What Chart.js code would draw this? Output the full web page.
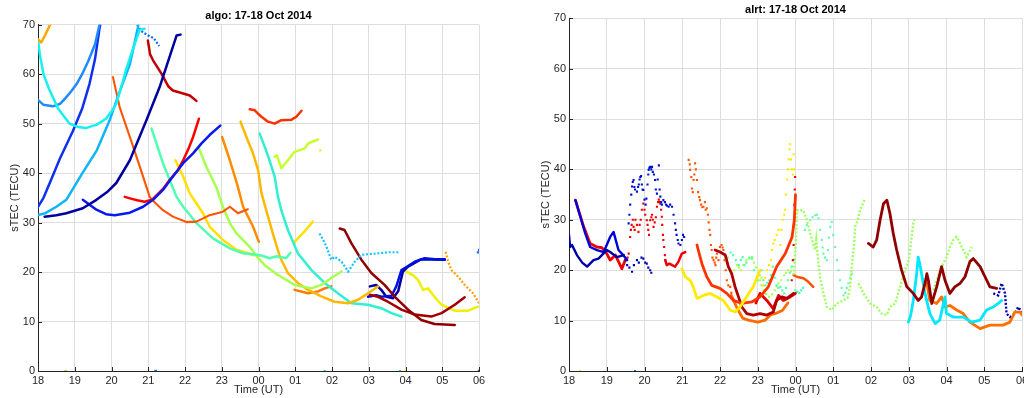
<!DOCTYPE html>
<html><head><meta charset="utf-8">
<script src="https://cdn.jsdelivr.net/npm/chart.js@4"></script>
<style>
html,body{margin:0;padding:0;background:#fff;overflow:hidden;width:1024px;height:398px;}
#w1{position:absolute;left:0;top:0;width:512px;height:398px;}
#w2{position:absolute;left:512px;top:0;width:540px;height:398px;}
</style></head><body>
<div id="w1"><canvas id="c1"></canvas></div>
<div id="w2"><canvas id="c2"></canvas></div>
<script>
// ---- tick labels ----
const hourTicks = [18,19,20,21,22,23,24,25,26,27,28,29,30];
const tecTicks = [0,10,20,30,40,50,60,70];

// ---- algo station tracks: [hour (UT, 24+ = next day), sTEC] ----
const algoOrangeTop = [[18.0,67],[18.09,66.4],[18.2,68],[18.36,70.5]];
const algoCyan = [[18.0,67],[18.05,64],[18.15,60],[18.3,57],[18.55,53],[18.86,50],[19.1,49.3],[19.3,49.1],[19.6,49.8],[19.85,51],[20.05,53],[20.13,54],[20.25,57],[20.4,61],[20.58,65],[20.77,69],[20.9,69.2]];
const algoAzure = [[18.0,54.8],[18.15,53.8],[18.4,53.5],[18.6,54],[18.73,55],[18.9,56.5],[19.05,58],[19.2,60],[19.36,62.5],[19.55,66],[19.68,70.2]];
const algoBlue = [[18.0,33.2],[18.15,35],[18.32,38],[18.6,43],[18.95,48.5],[19.2,53],[19.4,58],[19.55,63],[19.68,69.5],[19.72,71]];
const algoSky = [[18.0,31.5],[18.2,31.9],[18.5,33.2],[18.77,34.6],[19.2,39.9],[19.6,44.6],[19.95,50.7],[20.2,56],[20.5,62],[20.72,69.5],[20.75,71]];
const algoDodgerDots = [[20.7,70],[20.78,69],[20.85,68.5],[21.0,67.8],[21.15,67.3],[21.22,66.5],[21.3,65.7]];
const algoNavy = [[18.18,31.2],[18.5,31.5],[18.77,31.9],[19.22,32.9],[19.59,34.6],[19.9,36.3],[20.13,38],[20.5,42.6],[20.95,50.7],[21.31,57.4],[21.58,63.5],[21.77,67.8],[21.88,68]];
const algoBlue2 = [[19.22,34.6],[19.59,32.6],[19.85,31.7],[20.09,31.5],[20.5,32],[20.86,33.2],[21.13,34.6],[21.4,36.6],[21.67,39.3],[21.95,42],[22.22,44],[22.45,46],[22.67,47.7],[22.96,49.6]];
const algoRed = [[20.36,35.2],[20.55,34.8],[20.7,34.5],[20.9,34.2],[21.1,34.6],[21.4,36.8],[21.58,38.6],[21.8,40.5],[21.95,42.6],[22.1,45],[22.22,47.3],[22.38,51]];
const algoOrangeRed = [[20.04,59.4],[20.22,53.4],[20.5,47.3],[20.77,41.3],[21.04,35.2],[21.13,34.4],[21.4,32.5],[21.67,31.2],[22.04,30.1],[22.31,30.2],[22.67,31.5],[23.03,32.2],[23.22,33.2],[23.44,31.9],[23.71,32.7]];
const algoDarkRed = [[20.99,66.8],[21.05,64],[21.13,62.8],[21.36,60.1],[21.55,57.5],[21.67,56.7],[21.95,56.1],[22.13,55.7],[22.31,54.6]];
const algoAqua = [[21.09,49],[21.4,42],[21.77,35.2],[21.95,33.2],[22.31,29.9],[22.76,26.8],[23.22,24.8],[23.58,23.8],[23.94,23.5],[24.1,23.3],[24.3,22.8],[24.5,23.2],[24.75,22.8],[24.87,23.9]];
const algoYellow = [[21.74,42.6],[21.95,39.3],[22.13,35.9],[22.31,33.9],[22.49,31.9],[22.67,29.2],[23.03,26.5],[23.4,24.5],[23.85,23.5],[24.0,23.3]];
const algoLime = [[22.38,45],[22.58,41.3],[22.85,37.2],[23.03,33.2],[23.22,29.9],[23.4,27.8],[23.76,25.1],[24.03,22.5],[24.17,21.4],[24.53,19.4],[24.98,17.4],[25.44,16.7],[25.71,17.4],[25.98,18.8],[26.26,20.1]];
const algoOrange = [[23.01,47.3],[23.22,42.6],[23.44,37.2],[23.58,33.2],[23.85,29.2],[24.01,26.1]];
const algoAmber = [[23.51,50.4],[23.67,47.3],[23.85,44],[23.99,40.6],[24.08,36],[24.21,32.5],[24.39,27.8],[24.58,23.1],[24.8,19.8],[25.07,17.8],[25.35,16.4],[25.71,15.1],[26.07,14],[26.44,13.7],[26.71,14.4],[26.98,15.7],[27.25,17.1]];
const algoTurq = [[24.03,48],[24.17,45.3],[24.3,42.6],[24.44,39.3],[24.53,35.2],[24.62,32.5],[24.8,28.5],[25.07,23.8],[25.44,20.4],[25.8,17.8],[26.16,15.7],[26.53,13.7],[26.98,13.4],[27.34,12.7],[27.62,11.7],[27.89,11]];
const algoRedOrange = [[23.76,52.9],[23.9,52.7],[23.99,52],[24.08,51.4],[24.26,50.4],[24.44,50],[24.62,50.7],[24.9,50.8],[25.03,51.4],[25.17,52.6]];
const algoYellowGreen = [[24.44,43.3],[24.5,43.6],[24.62,41],[24.8,42.6],[24.98,44.3],[25.26,45],[25.35,46],[25.62,46.8]];
const algoYellowGreenDot = [[25.68,44.6]];
const algoOrange2 = [[24.98,16.4],[25.35,15.7],[25.62,16.1],[25.8,16.7],[25.98,17.1]];
const algoYellow2 = [[24.98,26.1],[25.25,28.2],[25.48,30.2]];
const algoSky2 = [[25.66,27.8],[25.76,26.5],[25.85,25.1],[25.98,22.5],[26.07,23.1],[26.26,22.1],[26.44,20.1],[26.62,22.1],[26.8,23.5],[27.16,23.7],[27.52,24],[27.84,24]];
const algoMaroon = [[26.21,28.8],[26.34,28.5],[26.53,25.8],[26.8,22.5],[27.07,19.8],[27.43,17.4],[27.71,15],[28.07,12.4],[28.43,10.3],[28.79,9.5],[29.34,9.3]];
const algoDarkRed2 = [[27.03,15.4],[27.25,15],[27.52,14],[27.89,12.4],[28.25,11.4],[28.7,11],[28.98,11.7],[29.34,13.4],[29.61,14.9]];
const algoBlue3 = [[26.98,15],[27.2,15.3],[27.34,15],[27.62,15.2],[27.75,17.1],[27.89,20.4],[28.07,21.2],[28.25,22.1],[28.52,22.8],[28.8,22.6],[29.07,22.6]];
const algoNavy2 = [[27.03,17.1],[27.2,17.4],[27.34,16.4],[27.48,15],[27.66,14.7],[27.8,16.1],[27.93,20.1],[28.07,21.1],[28.43,22.6],[29.07,22.5]];
const algoYellow3 = [[28.02,20.1],[28.2,19.4],[28.34,18.4],[28.48,16.4],[28.61,16.7],[28.79,15],[28.98,13.4],[29.34,12.2],[29.7,12.2],[29.97,13]];
const algoOrange3 = [[29.09,24.1],[29.16,22.1],[29.25,20.4],[29.43,19.1],[29.61,17.4],[29.84,15.7],[30.0,13.7]];
const algoBlueDot = [[29.97,24],[30.0,24.5]];
const algoZeroOrange = [[18.75,0]];
const algoZeroBlue = [[21.2,0],[30.0,0]];
const algoZeroSky = [[25.8,0],[27.85,0]];
const algoZeroYellow = [[28.0,0]];

// ---- alrt station tracks ----
const alrtNavy = [[18.0,27],[18.03,24.6],[18.08,25],[18.21,23],[18.35,21.5],[18.48,20.7],[18.65,22],[18.78,22.3],[19.0,24],[19.09,23.6],[19.27,22.6],[19.45,23]];
const alrtNavyDots = [[19.5,22],[19.54,21],[19.6,20.5],[19.67,19.7],[19.72,21],[19.8,22],[19.85,21.5],[19.92,22.5],[19.97,22.3],[20.02,21.5],[20.06,21.3],[20.1,20.5],[20.15,20],[20.18,19.5]];
const alrtBlue = [[18.17,33.9],[18.3,30.6],[18.43,27.3],[18.56,24.6],[18.74,24],[18.92,23.6],[19.09,26.6],[19.18,27.6],[19.31,24],[19.4,23.3],[19.54,22]];
const alrtBlueDots = [[19.58,29.3],[19.6,31],[19.62,33],[19.65,35],[19.67,36.6],[19.69,37.5],[19.71,37.9],[19.73,36.5],[19.75,36],[19.8,35.6],[19.83,36.5],[19.85,37],[19.87,38],[19.89,38.5],[19.91,38.7],[19.93,37],[19.95,36],[19.97,35.9],[20.0,34],[20.03,33],[20.05,34.2],[20.08,37],[20.1,39],[20.11,39.9],[20.13,40.3],[20.15,40.5],[20.18,40],[20.2,40.5],[20.22,39.5],[20.25,39],[20.28,37.9],[20.3,36],[20.33,35.2],[20.35,38],[20.38,40.8],[20.4,36],[20.42,34.6],[20.44,33.5],[20.46,33],[20.5,33.9],[20.54,33.5],[20.57,33],[20.6,32.8],[20.64,32.6],[20.68,33],[20.73,32.6],[20.77,31],[20.81,29.3],[20.83,28],[20.85,27],[20.88,26],[20.9,25.3],[20.95,25],[20.99,26],[21.02,27],[21.05,26.6]];
const alrtRed = [[18.17,33.9],[18.39,28.6],[18.56,25.3],[18.74,24.6],[18.87,24.5],[19.0,23.3],[19.09,22],[19.23,23],[19.4,20.3],[19.49,22]];
const alrtRedDots = [[19.55,22.5],[19.58,23.3],[19.62,26.6],[19.64,28],[19.66,29],[19.69,30],[19.71,28.6],[19.74,28],[19.76,30],[19.8,29],[19.84,27.6],[19.87,29],[19.9,30],[19.93,32],[19.97,33.2],[20.0,32],[20.02,31],[20.06,29.9],[20.08,29],[20.1,28],[20.12,27],[20.15,29.9],[20.18,30.5],[20.2,31],[20.22,30],[20.24,28.6],[20.27,29.5],[20.3,30.5],[20.33,32.6],[20.36,33.5],[20.38,34],[20.4,33.5],[20.42,33.2],[20.44,32],[20.46,30.6],[20.47,29],[20.49,27],[20.5,26],[20.52,24.6],[20.54,23],[20.55,22]];
const alrtRedTail = [[20.55,22],[20.59,21],[20.66,21.3],[20.73,21],[20.81,20.7],[20.9,21.7],[20.99,23.3],[21.08,23.6]];
const alrtOrangeRedDots = [[21.17,41.9],[21.2,41],[21.21,39.9],[21.24,38.5],[21.26,36.2],[21.28,35.5],[21.3,37.9],[21.32,39],[21.34,41.2],[21.36,40],[21.39,37.9],[21.42,35.5],[21.45,34.5],[21.47,33.9],[21.5,33],[21.53,32.5],[21.56,32.6],[21.6,33.5],[21.62,32],[21.65,32.3],[21.68,31],[21.7,29.5],[21.72,28],[21.74,27],[21.76,25],[21.78,24],[21.8,22.5],[21.83,22],[21.86,21.5],[21.88,21],[21.9,22.5],[21.92,23.3],[21.96,22],[22.0,24.6],[22.04,25],[22.07,24.5],[22.09,24],[22.12,22],[22.15,20],[22.18,18],[22.22,17],[22.27,16.7],[22.3,15.5]];
const alrtYellow = [[20.99,20.3],[21.08,18.7],[21.21,18],[21.3,16.5],[21.39,14.4],[21.56,15],[21.74,15.4],[21.92,14.7],[22.09,14],[22.27,12.1],[22.4,11.7],[22.53,12.7],[22.7,14.7],[22.88,16.7],[23.06,20]];
const alrtYellowDots = [[23.1,18.5],[23.15,17],[23.2,18.5],[23.25,20],[23.3,21],[23.35,22],[23.38,24],[23.41,25.3],[23.45,26],[23.5,27],[23.55,28],[23.6,25],[23.63,28],[23.66,30],[23.7,31],[23.72,32],[23.75,35],[23.78,38],[23.8,40],[23.82,42],[23.84,44],[23.86,45],[23.88,42],[23.9,40],[23.93,39],[23.95,43],[23.96,40]];
const alrtOrangeRed = [[21.39,25],[21.52,21.3],[21.65,18.7],[21.78,17],[22.0,16.4],[22.18,15.4],[22.36,14],[22.58,13.4],[22.84,13.7],[23.06,14.7],[23.28,16.7],[23.5,20.7],[23.73,23.3],[23.91,26.6],[23.97,30],[24.0,35]];
const alrtDarkRed = [[21.87,24],[22.0,23.6],[22.14,23],[22.22,20.7],[22.31,19.3],[22.4,16.7],[22.49,14.7],[22.58,12.7],[22.71,11.4],[22.88,11.1],[23.06,11.4],[23.24,11.1],[23.41,11.7],[23.5,14],[23.64,14.7],[23.77,14.4],[23.95,15.4]];
const alrtOrange = [[22.3,15],[22.45,12.5],[22.6,10.5],[22.75,10.1],[23.0,9.7],[23.2,10.1],[23.35,11.2],[23.5,11.5],[23.65,12],[23.8,13.5]];
const alrtRed2 = [[22.95,13.5],[23.06,15.4],[23.24,14],[23.41,12.4],[23.55,15],[23.68,14],[23.86,14.7],[24.0,15.4]];
const alrtRedRise = [[23.9,18],[23.93,22],[23.95,25],[23.96,29],[23.97,33],[23.98,36],[23.99,38.5]];
const alrtAquaDots = [[22.2,22.5],[22.28,23.5],[22.35,23],[22.42,22],[22.5,21],[22.55,22],[22.6,22.6],[22.65,21],[22.7,21.5],[22.78,22.5],[22.85,22.3],[22.9,20],[23.0,18],[23.05,19],[23.1,20],[23.15,18],[23.2,17],[23.25,17.5],[23.3,18],[23.35,19],[23.4,20.7],[23.45,18.5],[23.5,17],[23.55,16.5],[23.6,16.7],[23.65,16],[23.7,15.4],[23.75,16.5],[23.8,18],[23.85,19.5],[23.9,20.7],[23.95,22],[24.0,16],[24.05,15.7],[24.1,15.5],[24.15,16],[24.2,16.5]];
const alrtLimeDots = [[22.3,19.3],[22.38,20],[22.45,21],[22.5,20.5],[22.55,20],[22.62,21],[22.7,22],[22.78,22.3],[22.85,22.6],[22.9,21.5],[22.95,20.5],[23.0,19],[23.06,18],[23.1,17],[23.15,16],[23.22,15.3],[23.3,14.7],[23.38,15.2],[23.45,16],[23.5,16.8],[23.55,17.4],[23.62,18],[23.7,19],[23.75,19.5],[23.8,20],[23.88,19.8],[23.95,19.3]];
const alrtRedOrange2 = [[23.95,19],[24.03,18.7],[24.21,18.4],[24.34,17.7],[24.47,16.7]];
const alrtGreen = [[23.95,19],[24.0,24],[24.04,31.9],[24.2,31.9],[24.3,30],[24.4,27],[24.52,24],[24.55,26],[24.6,22],[24.65,18.7],[24.74,15.4],[24.83,12.7],[24.96,12.1],[25.09,13.4],[25.27,14],[25.4,14.7],[25.45,17],[25.49,20.7],[25.55,25],[25.58,28.6],[25.65,30],[25.71,31.9],[25.84,34.2]];
const alrtAqua2 = [[24.25,28],[24.3,29],[24.39,29.9],[24.45,30.5],[24.52,30.9],[24.57,31],[24.61,30.3],[24.65,28],[24.7,26],[24.72,24.5],[24.74,23.3],[24.78,22.5],[24.83,22],[24.86,24],[24.89,26.5],[24.92,28.6],[24.96,29.6],[25.0,27],[25.05,24.6],[25.1,22],[25.14,20],[25.18,18],[25.22,16.5],[25.27,15],[25.32,15.5],[25.36,16.5],[25.4,17.4],[25.45,18.5],[25.49,19.3]];
const alrtMaroon = [[25.93,25.3],[26.06,24.6],[26.15,26],[26.24,29.9],[26.33,33.2],[26.42,33.9],[26.5,31.3],[26.59,27.3],[26.68,24],[26.81,20],[26.95,16.7],[27.12,15.4],[27.25,14],[27.34,14.7],[27.43,17.4],[27.48,19.3],[27.52,18],[27.61,13.4],[27.74,16.7],[27.87,20.7],[27.96,18],[28.09,15.4],[28.22,16.7],[28.36,17.4],[28.49,18.7],[28.62,21.7],[28.71,22.3],[28.89,20.7],[29.02,18.7],[29.15,16.7],[29.33,16.4]];
const alrtGreen2 = [[25.67,17.4],[25.8,15.4],[25.98,13.4],[26.15,12.7],[26.28,11.4],[26.42,11.1],[26.5,12.7],[26.64,13.4],[26.77,16.7],[26.9,20],[27.0,22],[27.05,25],[27.12,29.3],[27.15,30]];
const alrtCyan = [[26.99,9.7],[27.05,11],[27.12,14],[27.21,19.3],[27.25,22.6],[27.3,21],[27.34,19.3],[27.43,15.4],[27.56,11.4],[27.7,9.4],[27.82,10.1],[27.92,13.4],[27.96,14.7],[28.0,11.4],[28.18,10.7],[28.44,10.7],[28.67,9.7],[28.89,10.1],[29.06,12.1],[29.24,12.7],[29.37,13.4],[29.46,14]];
const alrtOrange2 = [[27.48,17.4],[27.56,14],[27.74,13.4],[27.87,14.7],[27.96,12.7],[28.09,13],[28.27,12.1],[28.44,11.4],[28.62,9.7],[28.89,8.4],[29.15,9.1],[29.5,9.1],[29.68,9.7],[29.81,11.7],[29.95,11.7],[30.0,11.1]];
const alrtGreen3 = [[27.65,16],[27.83,20],[28.0,22.6],[28.09,24.6],[28.18,26],[28.27,26.6],[28.36,25.3],[28.49,23.3],[28.53,22.6],[28.67,24.6]];
const alrtNavy2 = [[29.24,15.4],[29.37,15],[29.46,17.4],[29.55,15.4],[29.59,11.4],[29.68,10.7],[29.81,11.4],[29.9,12.7],[29.99,11.7]];
const alrtZeroYellow = [[18.3,0]];
const alrtZeroBlue = [[19.75,0]];

// ---- helpers ----
function pts(a){ return a.map(p => ({x:p[0], y:p[1]})); }
function line(a, color, w){ return {data:pts(a), borderColor:color, backgroundColor:color, showLine:true, borderWidth:w||2.5, pointRadius:0, borderJoinStyle:'round', borderCapStyle:'round'}; }
function dotted(a, color, w){ return {data:pts(a), borderColor:color, backgroundColor:color, showLine:true, borderWidth:w||2.2, borderDash:[2,1.8], pointRadius:0}; }
function dots(a, color, r){ return {data:pts(a), borderColor:color, backgroundColor:color, showLine:false, pointStyle:'rect', pointRadius:r||1.5, pointBorderWidth:0}; }

const algoSets = [
  line(algoOrangeTop,'#FFA800'), line(algoCyan,'#18F0F0'), line(algoAzure,'#1E8CFF'),
  line(algoBlue,'#1030F0'), line(algoSky,'#10B4FA'), dotted(algoDodgerDots,'#0868FF'),
  line(algoNavy,'#0000A0'), line(algoBlue2,'#0818F0'), line(algoRed,'#FF0000'),
  line(algoOrangeRed,'#FF5400',2.1), line(algoDarkRed,'#C00000'), line(algoAqua,'#50FFB0'),
  line(algoYellow,'#FFE000'), line(algoLime,'#A8FF50'), line(algoOrange,'#FF8C00'),
  line(algoAmber,'#FFB800'), line(algoTurq,'#30F0D0'), line(algoRedOrange,'#FF3000'),
  line(algoYellowGreen,'#C8FF30'), dots(algoYellowGreenDot,'#C8FF30',1.6), line(algoOrange2,'#FF7800'),
  line(algoYellow2,'#FFE000'), dotted(algoSky2,'#10C4FF'), line(algoMaroon,'#900000'),
  line(algoDarkRed2,'#A00000'), line(algoBlue3,'#0010E0'), line(algoNavy2,'#0000A0'),
  line(algoYellow3,'#F0F000'), dotted(algoOrange3,'#FFA000'), dots(algoBlueDot,'#1E70FF',1.6),
  dots(algoZeroOrange,'#FFA000',1.5), dots(algoZeroBlue,'#1060FF',1.8), dots(algoZeroSky,'#20C0FF',1.5), dots(algoZeroYellow,'#F0F000',1.5)
];

const alrtSets = [
  line(alrtNavy,'#0000A8',2.4), dots(alrtNavyDots,'#0000B8'), line(alrtBlue,'#0000D8',2.4),
  dots(alrtBlueDots,'#0010D0'), line(alrtRed,'#F00000',2.8), dots(alrtRedDots,'#F00000'),
  line(alrtRedTail,'#F00000',2.5), dots(alrtOrangeRedDots,'#FF5500'), line(alrtYellow,'#FFEA00',2.8),
  dots(alrtYellowDots,'#FFEA00'), line(alrtOrangeRed,'#FF3300',2.8), line(alrtDarkRed,'#B00000',2.8),
  line(alrtOrange,'#FF6A00',2.8), line(alrtRed2,'#E00000',2.8), dots(alrtRedRise,'#F00000'),
  dots(alrtAquaDots,'#50FFB0'), dots(alrtLimeDots,'#B0FF50'), line(alrtRedOrange2,'#FF5000',2.5),
  dotted(alrtGreen,'#A0FF60',2.4), dots(alrtAqua2,'#60FFB0'), line(alrtMaroon,'#900000',2.8),
  dotted(alrtGreen2,'#A0FF60',2.4), line(alrtCyan,'#00E8FF',2.8), line(alrtOrange2,'#FF7000',2.8),
  dotted(alrtGreen3,'#A0FF60',2.4), dotted(alrtNavy2,'#0000B0',2.4),
  dots(alrtZeroYellow,'#F0F000',1.5), dots(alrtZeroBlue,'#1060FF',1.5)
];

const AX = '#262626', GRID = '#DEDEDE';
// small inward tick marks on the left and bottom axes (as in the original figure)
const innerTicks = {
  id:'innerTicks',
  afterDatasetsDraw(chart){
    const {ctx, chartArea:a, scales:{x, y}} = chart;
    ctx.save(); ctx.strokeStyle = AX; ctx.lineWidth = 1;
    ctx.beginPath();
    hourTicks.forEach(v => { const px = Math.round(x.getPixelForValue(v)) + 0.5; ctx.moveTo(px, a.bottom); ctx.lineTo(px, a.bottom - 4); });
    tecTicks.forEach(v => { const py = Math.round(y.getPixelForValue(v)) + 0.5; ctx.moveTo(a.left, py); ctx.lineTo(a.left + 4, py); });
    ctx.stroke(); ctx.restore();
  }
};
function makeChart(id, titleText, sets, yWidth, titleTopPad, yTitlePad){
  return new Chart(document.getElementById(id), {
    type:'scatter',
    data:{datasets:sets},
    plugins:[innerTicks],
    options:{
      responsive:true, maintainAspectRatio:false, animation:false,
      layout:{padding:{left:0, right:id==='c1'?33:30, top:0, bottom:0}},
      plugins:{
        legend:{display:false}, tooltip:{enabled:false},
        title:{display:true, text:titleText, fullSize:false, color:'#000',
               font:{family:'"Liberation Sans", Arial, sans-serif', size:11, weight:'bold'},
               padding:{top:titleTopPad, bottom:2}}
      },
      scales:{
        x:{type:'linear', min:hourTicks[0], max:hourTicks[hourTicks.length-1],
           afterBuildTicks:(s)=>{ s.ticks = hourTicks.map(v=>({value:v})); },
           afterFit:(s)=>{ s.height = 27; },
           ticks:{color:AX, font:{family:'"Liberation Sans", Arial, sans-serif', size:11}, padding:3, maxRotation:0, autoSkip:false,
                  callback:(v)=>String(v%24).padStart(2,'0')},
           grid:{color:GRID, drawTicks:false},
           border:{display:true, color:AX, width:1},
           title:{display:true, text:'Time (UT)', color:AX, font:{family:'"Liberation Sans", Arial, sans-serif', size:11}, padding:{top:0,bottom:1}}},
        y:{type:'linear', min:tecTicks[0], max:tecTicks[tecTicks.length-1],
           afterBuildTicks:(s)=>{ s.ticks = tecTicks.map(v=>({value:v})); },
           afterFit:(s)=>{ s.width = yWidth; },
           ticks:{color:AX, font:{family:'"Liberation Sans", Arial, sans-serif', size:11}, padding:3},
           grid:{color:GRID, drawTicks:false},
           border:{display:true, color:AX, width:1},
           title:{display:true, text:'sTEC (TECU)', color:AX, font:{family:'"Liberation Sans", Arial, sans-serif', size:11}, padding:{top:yTitlePad,bottom:0}}}
      }
    }
  });
}
makeChart('c1','algo: 17-18 Oct 2014', algoSets, 38, 9.5, 8.5);
makeChart('c2','alrt: 17-18 Oct 2014', alrtSets, 57, 3, 27);
</script>
</body></html>
